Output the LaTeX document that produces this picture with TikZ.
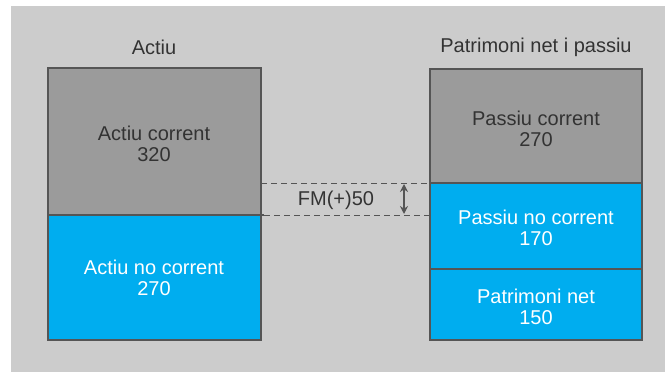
\documentclass[tikz,border=0pt]{standalone}
\usepackage{fontspec}
\setmainfont{Liberation Sans}
\usetikzlibrary{arrows.meta}
\definecolor{panel}{HTML}{CCCCCC}
\definecolor{boxgray}{HTML}{9B9B9B}
\definecolor{boxblue}{HTML}{00ADEF}
\definecolor{edge}{HTML}{555555}
\definecolor{ink}{HTML}{333333}
\begin{document}
\begin{tikzpicture}[x=1pt,y=-1pt,
  part/.style={draw=edge,line width=1.3pt},
  darktxt/.style={text=ink,font=\fontsize{20}{21.5}\selectfont,align=center,inner sep=0pt},
  lighttxt/.style={text=white,font=\fontsize{20}{21.5}\selectfont,align=center,inner sep=0pt},
  guide/.style={draw=edge,dashed,dash pattern=on 6pt off 4pt,line width=0.8pt}]
  \useasboundingbox (0,0) rectangle (665,372);
  \fill[white] (0,0) rectangle (665,372);
  \fill[panel] (11,6) rectangle (665,372);

  % assets column
  \fill[boxgray] (48,68) rectangle (261,215);
  \fill[boxblue] (48,215) rectangle (261,340);
  \draw[part] (48,68) rectangle (261,340);
  \draw[part] (48,215) -- (264,215);

  % equity and liabilities column
  \fill[boxgray] (430,69) rectangle (642,183);
  \fill[boxblue] (430,183) rectangle (642,340);
  \draw[part] (430,69) rectangle (642,340);
  \draw[part] (430,183) -- (642,183);
  \draw[part] (430,269) -- (642,269);

  % headings
  \node[darktxt] (hA) at (154,47) {Actiu};
  \node[darktxt] (hP) at (536,47) {Patrimoni net i passiu};

  % block labels
  \node[darktxt] (ac) at (154,144) {Actiu corrent\\320};
  \node[lighttxt] (anc) at (154,278) {Actiu no corrent\\270};
  \node[darktxt] (pc) at (536,129) {Passiu corrent\\270};
  \node[lighttxt] (pnc) at (536,228) {Passiu no corrent\\170};
  \node[lighttxt] (pn) at (536,307) {Patrimoni net\\150};

  % working capital gap
  \coordinate (t1) at (261,183);
  \coordinate (t2) at (430,183);
  \coordinate (b1) at (264,215);
  \coordinate (b2) at (430,215);
  \draw[guide] (t1) -- (t2);
  \draw[guide] (b1) -- (b2);
  \coordinate (ua) at (404,184);
  \coordinate (la) at (404,214);
  \draw[edge,line width=1.3pt,{Stealth[length=8pt,width=8pt]}-{Stealth[length=8pt,width=8pt]}] (ua) -- (la);
  \node[darktxt] (fm) at (336,200) {FM(+)50};
\end{tikzpicture}
\end{document}
